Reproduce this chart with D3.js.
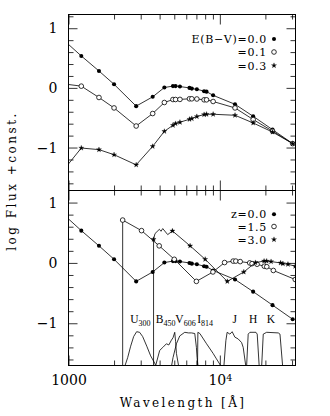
<!DOCTYPE html>
<html><head><meta charset="utf-8">
<script src="https://cdn.jsdelivr.net/npm/d3@7"></script>
<style>body{margin:0;background:#fff}svg{display:block}</style>
</head><body>
<svg id="c" width="330" height="416"></svg>
<script>
// ---------- data ----------
// top panel: rest-frame SED with different reddening
const topWave   = [912, 1215, 1590, 2000, 2800, 3600, 4300, 4900, 5100, 5450, 6300, 6530, 7050, 7870, 8170, 9030, 12600, 16600, 22300, 30300];
const ebv00Flux = [0.82, 0.535, 0.283, 0.06, -0.306, -0.15, 0.006, 0.03, 0.03, 0.022, 0.0, -0.012, -0.022, -0.055, -0.063, -0.125, -0.275, -0.476, -0.70, -0.934];
const ebv01Flux = [0.07, 0.029, -0.161, -0.336, -0.639, -0.43, -0.245, -0.195, -0.195, -0.193, -0.183, -0.183, -0.186, -0.2, -0.2, -0.228, -0.336, -0.53, -0.725, -0.934];
const ebv03Flux = [-1.40, -1.008, -1.035, -1.12, -1.29, -0.98, -0.728, -0.627, -0.598, -0.576, -0.526, -0.514, -0.48, -0.447, -0.442, -0.442, -0.459, -0.588, -0.74, -0.934];

// bottom panel: observed SED at different redshifts
const z00Wave = [912, 1215, 1590, 2000, 2800, 3600, 4300, 4900, 5100, 5450, 6300, 6530, 7050, 7870, 8170, 9030, 12600, 16600, 22300, 30300];
const z00Flux = [0.82, 0.535, 0.283, 0.06, -0.306, -0.15, 0.006, 0.03, 0.03, 0.022, 0.0, -0.012, -0.022, -0.055, -0.063, -0.125, -0.275, -0.476, -0.70, -0.934];
const z15Wave = [2280, 2280, 3038, 3975, 5000, 7000, 9000, 10750, 12250, 12750, 13625, 15750, 16325, 17625, 19675, 20425, 22575, 31500, 41500];
const z15Flux = [-3, 0.71, 0.535, 0.283, 0.06, -0.306, -0.15, 0.006, 0.03, 0.03, 0.022, 0.0, -0.012, -0.022, -0.055, -0.063, -0.125, -0.275, -0.476];
const z30Wave   = [3648, 3648, 3729, 3987, 4087, 4195, 4524, 4860, 6360, 8000, 11200, 14400, 17200, 19600, 20400, 21800, 25200, 26120, 28200, 31480, 32680];
const z30Flux   = [-3, 0.39, 0.486, 0.557, 0.524, 0.569, 0.469, 0.53, 0.283, 0.06, -0.306, -0.15, 0.006, 0.03, 0.03, 0.022, 0.0, -0.012, -0.022, -0.055, -0.063];
const z30Marked = [0, 1, 0, 0, 0, 0, 0, 1, 1, 1, 1, 1, 1, 1, 1, 1, 1, 1, 1, 1, 1];

// filter transmission curves (in plot units)
const uWave = [2350, 2460, 2575, 2695, 2820, 2950, 3090, 3290, 3490, 3710, 3800];
const uFlux = [-1.72, -1.57, -1.38, -1.22, -1.14, -1.15, -1.22, -1.38, -1.54, -1.66, -1.72];
const bWave = [3750, 4005, 4200, 4436, 4600, 4787, 4906, 5035, 5100, 5167, 5352];
const bFlux = [-1.72, -1.45, -1.40, -1.34, -1.36, -1.28, -1.24, -1.15, -1.30, -1.50, -1.72];
const vWave = [4787, 4906, 5167, 5433, 5864, 6200, 6496, 6830, 7000, 7074, 7183];
const vFlux = [-1.72, -1.57, -1.34, -1.21, -1.15, -1.16, -1.16, -1.17, -1.40, -1.57, -1.72];
const iWave = [7120, 7160, 7380, 8170, 9030, 9500, 10000, 10100];
const iFlux = [-1.72, -1.15, -1.17, -1.34, -1.50, -1.59, -1.68, -1.72];
const jWave = [10630, 10960, 11175, 11650, 12066, 12570, 13220, 13925, 14270, 14865];
const jFlux = [-1.72, -1.29, -1.15, -1.18, -1.14, -1.23, -1.26, -1.32, -1.40, -1.72];
const hWave = [15025, 15396, 15800, 17320, 17660, 18210];
const hFlux = [-1.72, -1.18, -1.15, -1.15, -1.18, -1.72];
const kWave = [18890, 19360, 20390, 24330, 24970, 26020];
const kFlux = [-1.72, -1.18, -1.15, -1.16, -1.18, -1.72];

const filterNames = ["U", "B", "V", "I", "J", "H", "K"];
const filterSubs  = ["300", "450", "606", "814", "", "", ""];
const filterLabelWave = [2560, 3770, 5080, 7080, 12140, 15560, 20380];
const filterLabelFlux = -0.99;

// axes / ticks / legends
const xMajor = [1000, 10000];
const xMinor = [2000, 3000, 4000, 5000, 6000, 7000, 8000, 9000, 20000, 30000];
const yMajor = [-1, 0, 1];
const yMinor = [-1.6, -1.4, -1.2, -0.8, -0.6, -0.4, -0.2, 0.2, 0.4, 0.6, 0.8, 1.2];
const topLegend = ["E(B\u2212V)=0.0", "=0.1", "=0.3"];
const botLegend = ["z=0.0", "=1.5", "=3.0"];
const symbols = ["filled", "open", "star"];

// ---------- layout ----------
const L = 68.5, R = 295.5, T1 = 14.5, B1 = 190.5, T2 = 190.5, B2 = 365.5;
const svg = d3.select("#c");
const x = d3.scaleLog().domain([1000, 31623]).range([L, R]);
const y1 = d3.scaleLinear().domain([-1.72, 1.23]).range([B1, T1]);
const y2 = d3.scaleLinear().domain([-1.70, 1.20]).range([B2, T2]);

const defs = svg.append("defs");
defs.append("clipPath").attr("id", "cp1").append("rect").attr("x", L).attr("y", T1).attr("width", R - L).attr("height", B1 - T1);
defs.append("clipPath").attr("id", "cp2").append("rect").attr("x", L).attr("y", T2).attr("width", R - L).attr("height", B2 - T2);

function symPath(sym) {
  if (sym === "filled") return d3.symbol(d3.symbolCircle).size(13)();
  if (sym === "open") return d3.symbol(d3.symbolCircle).size(17)();
  return d3.symbol(d3.symbolStar).size(8)();
}
function styleSym(sel, sym) {
  if (sym === "filled") sel.attr("fill", "#000").attr("stroke", "none");
  else if (sym === "open") sel.attr("fill", "#fff").attr("stroke", "#000").attr("stroke-width", 0.8);
  else sel.attr("fill", "#000").attr("stroke", "#000").attr("stroke-width", 0.3);
}

function drawSeries(g, ys, wave, flux, sym, marked) {
  const pts = wave.map((w, i) => [w, flux[i], marked ? marked[i] : 1]);
  g.append("path").attr("d", d3.line().x(d => x(d[0])).y(d => ys(d[1]))(pts))
    .attr("fill", "none").attr("stroke", "#000").attr("stroke-width", 0.8);
  const m = g.selectAll(null).data(pts.filter(p => p[2])).enter().append("path")
    .attr("transform", p => `translate(${x(p[0])},${ys(p[1])})`)
    .attr("d", symPath(sym));
  styleSym(m, sym);
}

function drawAxes(ys, top, bottom, withXLabels) {
  const g = svg.append("g");
  const addX = (ticks, size, pos, axisFn) => {
    g.append("g").attr("transform", `translate(0,${pos})`)
      .call(axisFn(x).tickValues(ticks).tickSize(size).tickFormat(""))
      .call(a => a.select(".domain").remove())
      .call(a => a.selectAll("line").attr("stroke-width", 0.8));
  };
  addX(xMajor, -10, bottom, d3.axisBottom);
  addX(xMinor, -5, bottom, d3.axisBottom);
  addX(xMajor, -10, top, d3.axisTop);
  addX(xMinor, -5, top, d3.axisTop);
  const minor = yMinor.filter(v => ys(v) > top + 1 && ys(v) < bottom - 1);
  const addY = (ticks, size, pos, axisFn) => g.append("g").attr("transform", `translate(${pos},0)`)
      .call(axisFn(ys).tickValues(ticks).tickSize(size).tickFormat(""))
      .call(a => a.select(".domain").remove())
      .call(a => a.selectAll("line").attr("stroke-width", 0.8));
  addY(yMajor, -9, L, d3.axisLeft);
  addY(minor, -5, L, d3.axisLeft);
  addY(yMajor, -9, R, d3.axisRight);
  addY(minor, -5, R, d3.axisRight);
  g.append("g").attr("transform", `translate(${L},0)`)
    .call(d3.axisLeft(ys).tickValues(yMajor).tickSize(0).tickPadding(11).tickFormat(d3.format("d")))
    .call(a => a.select(".domain").remove())
    .call(a => a.selectAll("text").attr("font-family", "DejaVu Serif").attr("font-size", 14).attr("fill", "#000"));
  if (withXLabels) {
    g.append("g").attr("transform", `translate(0,${bottom})`)
      .call(d3.axisBottom(x).tickValues(xMajor).tickSize(0).tickPadding(10).tickFormat(d => d === 1000 ? "1000" : "10"))
      .call(a => a.select(".domain").remove())
      .call(a => a.selectAll("text").attr("font-family", "DejaVu Serif").attr("font-size", 14).attr("fill", "#000")
        .each(function(d) {
          if (d === 10000) d3.select(this).append("tspan").attr("dy", "-0.45em").attr("font-size", 9.5).text("4");
        }));
  }
  g.append("rect").attr("x", L).attr("y", top).attr("width", R - L).attr("height", bottom - top)
    .attr("fill", "none").attr("stroke", "#000").attr("stroke-width", 1);
}

// ---------- top panel ----------
const g1 = svg.append("g").attr("clip-path", "url(#cp1)");
drawSeries(g1, y1, topWave, ebv00Flux, "filled");
drawSeries(g1, y1, topWave, ebv01Flux, "open");
drawSeries(g1, y1, topWave, ebv03Flux, "star");
drawAxes(y1, T1, B1, false);

// ---------- bottom panel ----------
const g2 = svg.append("g").attr("clip-path", "url(#cp2)");
const filters = [[uWave, uFlux], [bWave, bFlux], [vWave, vFlux], [iWave, iFlux], [jWave, jFlux], [hWave, hFlux], [kWave, kFlux]];
filters.forEach(([w, f]) => {
  g2.append("path").attr("d", d3.line().x(d => x(d[0])).y(d => y2(d[1]))(w.map((v, i) => [v, f[i]])))
    .attr("fill", "none").attr("stroke", "#000").attr("stroke-width", 0.8);
});
drawSeries(g2, y2, z00Wave, z00Flux, "filled");
drawSeries(g2, y2, z15Wave, z15Flux, "open");
drawSeries(g2, y2, z30Wave, z30Flux, "star", z30Marked);
drawAxes(y2, T2, B2, true);

// filter labels
filterNames.forEach((n, i) => {
  const t = svg.append("text").attr("x", x(filterLabelWave[i])).attr("y", y2(filterLabelFlux))
    .attr("font-family", "Liberation Serif").attr("font-size", 11.5).attr("fill", "#000").text(n);
  if (filterSubs[i]) t.append("tspan").attr("dy", 3).attr("font-size", 8).text(filterSubs[i]);
});

// legends
function legend(items, centers) {
  items.forEach((txt, i) => {
    svg.append("text").attr("x", 267).attr("y", centers[i] + 4).attr("text-anchor", "end")
      .attr("font-family", "DejaVu Serif").attr("font-size", 11).attr("letter-spacing", 0.7).attr("fill", "#000").text(txt);
    const m = svg.append("path").attr("transform", `translate(274,${centers[i]})`).attr("d", symPath(symbols[i]));
    styleSym(m, symbols[i]);
  });
}
legend(topLegend, [39, 52, 65.5]);
legend(botLegend, [214.3, 226.5, 239.5]);

// axis titles
svg.append("text").attr("x", 183).attr("y", 406.5).attr("text-anchor", "middle")
  .attr("font-family", "DejaVu Serif").attr("font-size", 12).attr("letter-spacing", 2.4).attr("fill", "#000")
  .text("Wavelength [\u00C5]");
svg.append("text").attr("transform", "translate(15.5,181) rotate(-90)").attr("text-anchor", "middle")
  .attr("font-family", "DejaVu Serif").attr("font-size", 12).attr("letter-spacing", 2.5).attr("fill", "#000")
  .text("log Flux +const.");
</script>
</body></html>
